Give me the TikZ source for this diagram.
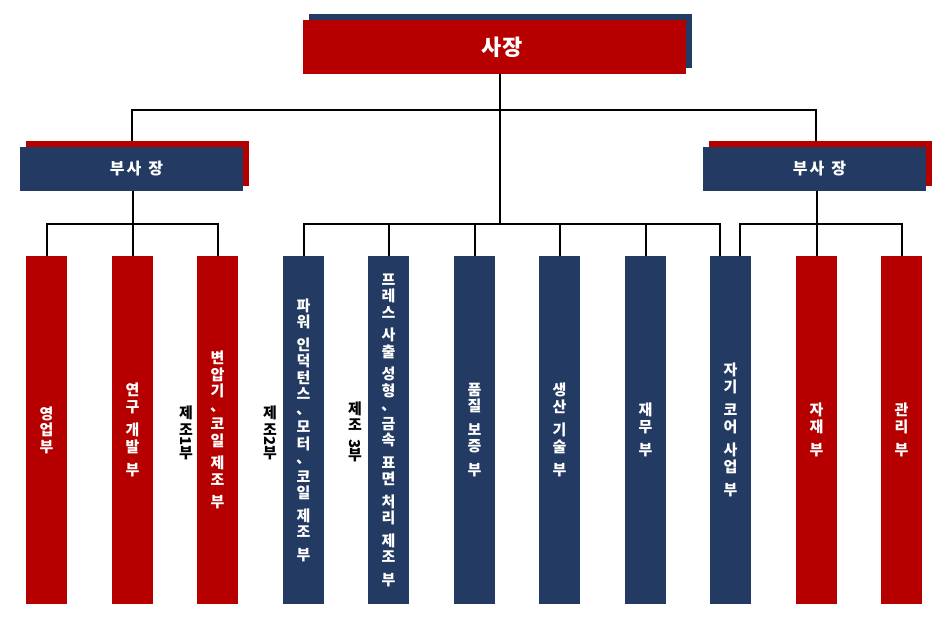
\documentclass[tikz,border=0pt]{standalone}
\usepackage{fontspec}
\newfontfamily\kr{Noto Sans CJK KR}
\definecolor{cred}{HTML}{B60000}
\definecolor{cnavy}{HTML}{233A63}
\pgfdeclarelayer{bg}
\pgfsetlayers{bg,main}
\newcommand\vcomma{\raisebox{2pt}{、}}
\tikzset{
  conn/.style={line width=2pt, black},
  colbase/.style={minimum width=41pt, minimum height=348pt, inner sep=0pt, text=white, align=center,
     font=\kr\bfseries\fontsize{15}{16.5}\selectfont},
  redcol/.style={colbase, fill=cred},
  navycol/.style={colbase, fill=cnavy},
  sidelabel/.style={align=center, inner sep=0pt, text=black, font=\kr\bfseries\fontsize{15}{16.5}\selectfont},
  vpbox/.style={minimum width=223pt, minimum height=44pt, inner sep=0pt, fill=cnavy, text=white,
     font=\kr\bfseries\fontsize{16}{18}\selectfont},
  ceobox/.style={minimum width=383pt, minimum height=54pt, inner sep=0pt, fill=cred, text=white,
     font=\kr\bfseries\fontsize{22}{24}\selectfont},
}
\begin{document}
\begin{tikzpicture}[x=1pt, y=-1pt]
\useasboundingbox (0,0) rectangle (947,639);
\begin{pgfonlayer}{bg}
\fill[white] (0,0) rectangle (947,639);
\end{pgfonlayer}

% CEO
\fill[cnavy] (309,14) rectangle (692,68);
\node[ceobox] (ceo) at (494.5,47) {\hspace{15pt}사장};

% vice presidents
\fill[cred] (26,141) rectangle (249,186);
\node[vpbox] (v1) at (131.5,169) {\hspace{10pt}부\hspace{2pt}사\hspace{7pt}장};
\fill[cred] (709,141) rectangle (932,186);
\node[vpbox] (v2) at (814.5,169) {\hspace{10pt}부\hspace{2pt}사\hspace{7pt}장};

% columns
\node[redcol] (c1) at (46.5,430) {영\\업\\부};
\node[redcol] (c2) at (132.5,430) {연\\구\\[7pt]개\\발\\[7pt]부};
\node[redcol] (c3) at (217.5,430) {변\\압\\기\\\vcomma\\코\\일\\[6pt]제\\조\\[6pt]부};
\node[navycol] (c4) at (303.5,430) {파\\워\\[6pt]인\\덕\\턴\\스\\\vcomma\\모\\터\\\vcomma\\코\\일\\[6pt]제\\조\\[6pt]부};
\node[navycol] (c5) at (388.5,430) {프\\레\\스\\[6pt]사\\출\\[6pt]성\\형\\\vcomma\\금\\속\\[6pt]표\\면\\[6pt]처\\리\\[6pt]제\\조\\[6pt]부};
\node[navycol] (c6) at (474.5,430) {품\\질\\[7pt]보\\증\\[7pt]부};
\node[navycol] (c7) at (559.5,430) {생\\산\\[7pt]기\\술\\[7pt]부};
\node[navycol] (c8) at (645.5,430) {재\\무\\[7pt]부};
\node[navycol] (c9) at (730.5,430) {자\\기\\[7pt]코\\어\\[7pt]사\\업\\[7pt]부};
\node[redcol] (c10) at (816.5,430) {자\\재\\[7pt]부};
\node[redcol] (c11) at (901.5,430) {관\\리\\[7pt]부};

% side labels
\node[sidelabel] (s1) at (186,433) {제\\조\\[-5pt]\rotatebox[origin=c]{-90}{1}\\[-5pt]부};
\node[sidelabel] (s2) at (270,433) {제\\조\\[-5pt]\rotatebox[origin=c]{-90}{2}\\[-5pt]부};
\node[sidelabel] (s3) at (355,432) {제\\조\\[2pt]\rotatebox[origin=c]{-90}{3}\\[-5pt]부};

% connectors
\coordinate (hub) at (500,110);
\coordinate (cbus) at (500,224);
\begin{pgfonlayer}{bg}
\draw[conn] ([xshift=5.5pt]ceo.south) -- (cbus);
\draw[conn] ([xshift=0.5pt]v1.north) |- (hub) -| ([xshift=1.5pt]v2.north);
\draw[conn] (c1.north) -- ++(0,-32) -| (c3.north);
\draw[conn] (c2.north) -- (c2.north |- v1.south);
\draw[conn] (c4.north) -- ++(0,-32) -| ([xshift=-10.5pt]c9.north);
\foreach \c in {c5,c6,c7,c8} \draw[conn] (\c.north) -- ++(0,-32);
\draw[conn] ([xshift=9.5pt]c9.north) -- ++(0,-32) -| (c11.north);
\draw[conn] (c10.north) -- (c10.north |- v2.south);
\end{pgfonlayer}
\end{tikzpicture}
\end{document}
